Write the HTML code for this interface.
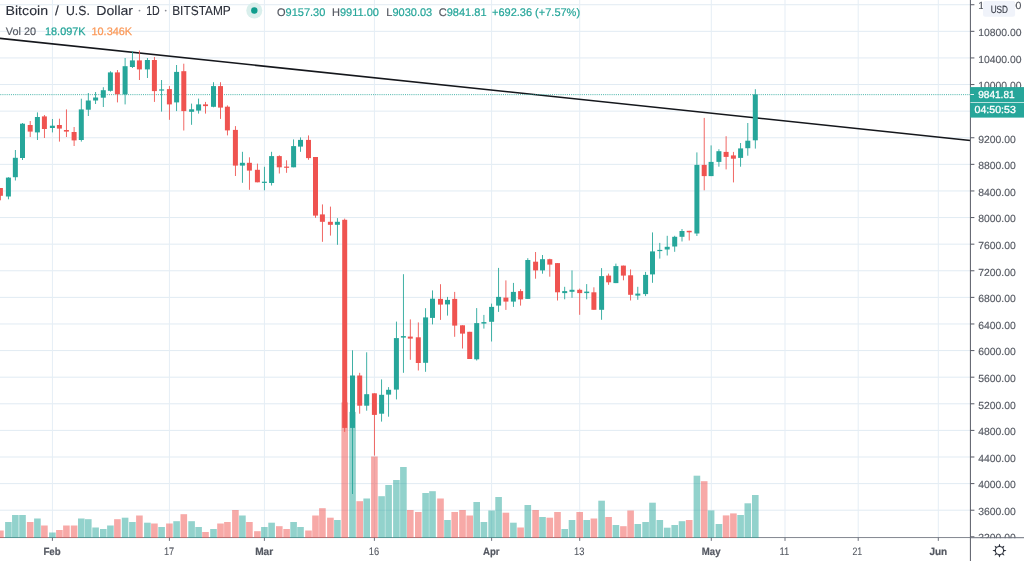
<!DOCTYPE html>
<html><head><meta charset="utf-8"><title>BTCUSD</title>
<style>
html,body{margin:0;padding:0;background:#fff;overflow:hidden}
body{width:1024px;height:561px;position:relative;font-family:"Liberation Sans",sans-serif}
svg text{font-family:"Liberation Sans",sans-serif;text-rendering:geometricPrecision}
svg{will-change:transform;transform:translateZ(0)}
</style></head><body>
<svg width="1024" height="561" viewBox="0 0 1024 561" style="position:absolute;left:0;top:0">
<rect width="1024" height="561" fill="#fff"/>
<rect x="0" y="509.70" width="970.4" height="1" fill="#e1ebf3"/>
<rect x="0" y="483.10" width="970.4" height="1" fill="#e1ebf3"/>
<rect x="0" y="456.49" width="970.4" height="1" fill="#e1ebf3"/>
<rect x="0" y="429.89" width="970.4" height="1" fill="#e1ebf3"/>
<rect x="0" y="403.29" width="970.4" height="1" fill="#e1ebf3"/>
<rect x="0" y="376.68" width="970.4" height="1" fill="#e1ebf3"/>
<rect x="0" y="350.08" width="970.4" height="1" fill="#e1ebf3"/>
<rect x="0" y="323.47" width="970.4" height="1" fill="#e1ebf3"/>
<rect x="0" y="296.87" width="970.4" height="1" fill="#e1ebf3"/>
<rect x="0" y="270.27" width="970.4" height="1" fill="#e1ebf3"/>
<rect x="0" y="243.66" width="970.4" height="1" fill="#e1ebf3"/>
<rect x="0" y="217.06" width="970.4" height="1" fill="#e1ebf3"/>
<rect x="0" y="190.45" width="970.4" height="1" fill="#e1ebf3"/>
<rect x="0" y="163.85" width="970.4" height="1" fill="#e1ebf3"/>
<rect x="0" y="137.25" width="970.4" height="1" fill="#e1ebf3"/>
<rect x="0" y="110.64" width="970.4" height="1" fill="#e1ebf3"/>
<rect x="0" y="84.04" width="970.4" height="1" fill="#e1ebf3"/>
<rect x="0" y="57.43" width="970.4" height="1" fill="#e1ebf3"/>
<rect x="0" y="30.83" width="970.4" height="1" fill="#e1ebf3"/>
<rect x="0" y="4.23" width="970.4" height="1" fill="#e1ebf3"/>
<rect x="51.90" y="0" width="1" height="537.55" fill="#e5eef5"/>
<rect x="168.90" y="0" width="1" height="537.55" fill="#e5eef5"/>
<rect x="263.90" y="0" width="1" height="537.55" fill="#e5eef5"/>
<rect x="373.90" y="0" width="1" height="537.55" fill="#e5eef5"/>
<rect x="491.10" y="0" width="1" height="537.55" fill="#e5eef5"/>
<rect x="579.20" y="0" width="1" height="537.55" fill="#e5eef5"/>
<rect x="710.80" y="0" width="1" height="537.55" fill="#e5eef5"/>
<rect x="784.50" y="0" width="1" height="537.55" fill="#e5eef5"/>
<rect x="857.70" y="0" width="1" height="537.55" fill="#e5eef5"/>
<rect x="937.80" y="0" width="1" height="537.55" fill="#e5eef5"/>
<rect x="0" y="537.20" width="1024" height="1" fill="#6c707c"/>
<rect x="-2.90" y="530.50" width="6.6" height="7.50" fill="#ef5350" fill-opacity="0.5"/>
<rect x="5.10" y="522.00" width="6.6" height="16.00" fill="#26a69a" fill-opacity="0.5"/>
<rect x="12.05" y="515.00" width="6.6" height="23.00" fill="#26a69a" fill-opacity="0.5"/>
<rect x="19.20" y="515.00" width="6.6" height="23.00" fill="#26a69a" fill-opacity="0.5"/>
<rect x="26.90" y="522.00" width="6.6" height="16.00" fill="#ef5350" fill-opacity="0.5"/>
<rect x="34.10" y="518.50" width="6.6" height="19.50" fill="#26a69a" fill-opacity="0.5"/>
<rect x="41.10" y="525.50" width="6.6" height="12.50" fill="#ef5350" fill-opacity="0.5"/>
<rect x="49.10" y="532.50" width="6.6" height="5.50" fill="#26a69a" fill-opacity="0.5"/>
<rect x="56.10" y="530.00" width="6.6" height="8.00" fill="#ef5350" fill-opacity="0.5"/>
<rect x="63.10" y="525.50" width="6.6" height="12.50" fill="#ef5350" fill-opacity="0.5"/>
<rect x="70.80" y="525.50" width="6.6" height="12.50" fill="#ef5350" fill-opacity="0.5"/>
<rect x="78.00" y="518.50" width="6.6" height="19.50" fill="#26a69a" fill-opacity="0.5"/>
<rect x="85.00" y="519.20" width="6.6" height="18.80" fill="#26a69a" fill-opacity="0.5"/>
<rect x="92.30" y="527.50" width="6.6" height="10.50" fill="#26a69a" fill-opacity="0.5"/>
<rect x="100.00" y="529.00" width="6.6" height="9.00" fill="#26a69a" fill-opacity="0.5"/>
<rect x="107.10" y="525.50" width="6.6" height="12.50" fill="#26a69a" fill-opacity="0.5"/>
<rect x="114.10" y="519.20" width="6.6" height="18.80" fill="#ef5350" fill-opacity="0.5"/>
<rect x="121.80" y="517.70" width="6.6" height="20.30" fill="#26a69a" fill-opacity="0.5"/>
<rect x="129.10" y="522.00" width="6.6" height="16.00" fill="#26a69a" fill-opacity="0.5"/>
<rect x="136.10" y="515.50" width="6.6" height="22.50" fill="#ef5350" fill-opacity="0.5"/>
<rect x="144.10" y="522.70" width="6.6" height="15.30" fill="#26a69a" fill-opacity="0.5"/>
<rect x="151.10" y="523.50" width="6.6" height="14.50" fill="#ef5350" fill-opacity="0.5"/>
<rect x="158.30" y="527.00" width="6.6" height="11.00" fill="#26a69a" fill-opacity="0.5"/>
<rect x="166.10" y="523.50" width="6.6" height="14.50" fill="#ef5350" fill-opacity="0.5"/>
<rect x="173.30" y="521.20" width="6.6" height="16.80" fill="#26a69a" fill-opacity="0.5"/>
<rect x="180.50" y="514.20" width="6.6" height="23.80" fill="#ef5350" fill-opacity="0.5"/>
<rect x="188.30" y="521.20" width="6.6" height="16.80" fill="#26a69a" fill-opacity="0.5"/>
<rect x="195.30" y="527.00" width="6.6" height="11.00" fill="#26a69a" fill-opacity="0.5"/>
<rect x="202.20" y="532.00" width="6.6" height="6.00" fill="#ef5350" fill-opacity="0.5"/>
<rect x="210.20" y="529.00" width="6.6" height="9.00" fill="#26a69a" fill-opacity="0.5"/>
<rect x="217.20" y="523.50" width="6.6" height="14.50" fill="#ef5350" fill-opacity="0.5"/>
<rect x="224.10" y="522.00" width="6.6" height="16.00" fill="#ef5350" fill-opacity="0.5"/>
<rect x="232.10" y="510.00" width="6.6" height="28.00" fill="#ef5350" fill-opacity="0.5"/>
<rect x="239.10" y="515.50" width="6.6" height="22.50" fill="#26a69a" fill-opacity="0.5"/>
<rect x="246.10" y="522.00" width="6.6" height="16.00" fill="#ef5350" fill-opacity="0.5"/>
<rect x="254.10" y="531.20" width="6.6" height="6.80" fill="#ef5350" fill-opacity="0.5"/>
<rect x="261.10" y="527.00" width="6.6" height="11.00" fill="#26a69a" fill-opacity="0.5"/>
<rect x="268.30" y="522.70" width="6.6" height="15.30" fill="#26a69a" fill-opacity="0.5"/>
<rect x="276.00" y="526.20" width="6.6" height="11.80" fill="#ef5350" fill-opacity="0.5"/>
<rect x="283.30" y="529.00" width="6.6" height="9.00" fill="#ef5350" fill-opacity="0.5"/>
<rect x="290.30" y="522.00" width="6.6" height="16.00" fill="#26a69a" fill-opacity="0.5"/>
<rect x="297.20" y="527.00" width="6.6" height="11.00" fill="#26a69a" fill-opacity="0.5"/>
<rect x="305.20" y="530.50" width="6.6" height="7.50" fill="#ef5350" fill-opacity="0.5"/>
<rect x="312.20" y="515.50" width="6.6" height="22.50" fill="#ef5350" fill-opacity="0.5"/>
<rect x="319.10" y="508.20" width="6.6" height="29.80" fill="#ef5350" fill-opacity="0.5"/>
<rect x="327.10" y="517.70" width="6.6" height="20.30" fill="#ef5350" fill-opacity="0.5"/>
<rect x="334.10" y="520.00" width="6.6" height="18.00" fill="#26a69a" fill-opacity="0.5"/>
<rect x="341.40" y="402.40" width="6.6" height="135.60" fill="#ef5350" fill-opacity="0.5"/>
<rect x="349.20" y="411.90" width="6.6" height="126.10" fill="#26a69a" fill-opacity="0.5"/>
<rect x="356.40" y="501.20" width="6.6" height="36.80" fill="#ef5350" fill-opacity="0.5"/>
<rect x="363.40" y="498.50" width="6.6" height="39.50" fill="#26a69a" fill-opacity="0.5"/>
<rect x="371.10" y="456.50" width="6.6" height="81.50" fill="#ef5350" fill-opacity="0.5"/>
<rect x="378.30" y="496.20" width="6.6" height="41.80" fill="#26a69a" fill-opacity="0.5"/>
<rect x="385.30" y="485.00" width="6.6" height="53.00" fill="#26a69a" fill-opacity="0.5"/>
<rect x="393.10" y="480.00" width="6.6" height="58.00" fill="#26a69a" fill-opacity="0.5"/>
<rect x="400.10" y="467.00" width="6.6" height="71.00" fill="#26a69a" fill-opacity="0.5"/>
<rect x="407.00" y="510.00" width="6.6" height="28.00" fill="#ef5350" fill-opacity="0.5"/>
<rect x="415.00" y="512.00" width="6.6" height="26.00" fill="#ef5350" fill-opacity="0.5"/>
<rect x="422.30" y="493.00" width="6.6" height="45.00" fill="#26a69a" fill-opacity="0.5"/>
<rect x="429.20" y="491.20" width="6.6" height="46.80" fill="#26a69a" fill-opacity="0.5"/>
<rect x="437.20" y="498.50" width="6.6" height="39.50" fill="#ef5350" fill-opacity="0.5"/>
<rect x="444.20" y="520.00" width="6.6" height="18.00" fill="#26a69a" fill-opacity="0.5"/>
<rect x="451.40" y="512.00" width="6.6" height="26.00" fill="#ef5350" fill-opacity="0.5"/>
<rect x="459.20" y="510.00" width="6.6" height="28.00" fill="#ef5350" fill-opacity="0.5"/>
<rect x="466.40" y="515.50" width="6.6" height="22.50" fill="#ef5350" fill-opacity="0.5"/>
<rect x="473.40" y="502.00" width="6.6" height="36.00" fill="#26a69a" fill-opacity="0.5"/>
<rect x="480.60" y="522.00" width="6.6" height="16.00" fill="#26a69a" fill-opacity="0.5"/>
<rect x="488.30" y="510.50" width="6.6" height="27.50" fill="#26a69a" fill-opacity="0.5"/>
<rect x="495.30" y="497.00" width="6.6" height="41.00" fill="#26a69a" fill-opacity="0.5"/>
<rect x="502.60" y="512.70" width="6.6" height="25.30" fill="#ef5350" fill-opacity="0.5"/>
<rect x="510.10" y="522.70" width="6.6" height="15.30" fill="#26a69a" fill-opacity="0.5"/>
<rect x="517.30" y="527.50" width="6.6" height="10.50" fill="#ef5350" fill-opacity="0.5"/>
<rect x="524.50" y="505.00" width="6.6" height="33.00" fill="#26a69a" fill-opacity="0.5"/>
<rect x="532.30" y="510.00" width="6.6" height="28.00" fill="#ef5350" fill-opacity="0.5"/>
<rect x="539.20" y="517.00" width="6.6" height="21.00" fill="#26a69a" fill-opacity="0.5"/>
<rect x="546.50" y="517.70" width="6.6" height="20.30" fill="#ef5350" fill-opacity="0.5"/>
<rect x="554.20" y="512.00" width="6.6" height="26.00" fill="#ef5350" fill-opacity="0.5"/>
<rect x="561.40" y="529.00" width="6.6" height="9.00" fill="#26a69a" fill-opacity="0.5"/>
<rect x="568.70" y="520.00" width="6.6" height="18.00" fill="#26a69a" fill-opacity="0.5"/>
<rect x="576.40" y="512.00" width="6.6" height="26.00" fill="#ef5350" fill-opacity="0.5"/>
<rect x="583.40" y="520.00" width="6.6" height="18.00" fill="#26a69a" fill-opacity="0.5"/>
<rect x="590.60" y="518.50" width="6.6" height="19.50" fill="#ef5350" fill-opacity="0.5"/>
<rect x="598.30" y="500.70" width="6.6" height="37.30" fill="#26a69a" fill-opacity="0.5"/>
<rect x="605.30" y="517.00" width="6.6" height="21.00" fill="#ef5350" fill-opacity="0.5"/>
<rect x="612.60" y="525.00" width="6.6" height="13.00" fill="#26a69a" fill-opacity="0.5"/>
<rect x="620.10" y="526.20" width="6.6" height="11.80" fill="#ef5350" fill-opacity="0.5"/>
<rect x="627.30" y="510.50" width="6.6" height="27.50" fill="#ef5350" fill-opacity="0.5"/>
<rect x="634.50" y="524.00" width="6.6" height="14.00" fill="#26a69a" fill-opacity="0.5"/>
<rect x="642.30" y="522.00" width="6.6" height="16.00" fill="#26a69a" fill-opacity="0.5"/>
<rect x="649.20" y="502.70" width="6.6" height="35.30" fill="#26a69a" fill-opacity="0.5"/>
<rect x="656.50" y="520.00" width="6.6" height="18.00" fill="#26a69a" fill-opacity="0.5"/>
<rect x="663.90" y="527.70" width="6.6" height="10.30" fill="#26a69a" fill-opacity="0.5"/>
<rect x="671.40" y="525.00" width="6.6" height="13.00" fill="#26a69a" fill-opacity="0.5"/>
<rect x="678.70" y="521.20" width="6.6" height="16.80" fill="#26a69a" fill-opacity="0.5"/>
<rect x="685.90" y="520.00" width="6.6" height="18.00" fill="#ef5350" fill-opacity="0.5"/>
<rect x="693.60" y="475.70" width="6.6" height="62.30" fill="#26a69a" fill-opacity="0.5"/>
<rect x="700.90" y="481.20" width="6.6" height="56.80" fill="#ef5350" fill-opacity="0.5"/>
<rect x="707.80" y="510.40" width="6.6" height="27.60" fill="#26a69a" fill-opacity="0.5"/>
<rect x="715.60" y="524.00" width="6.6" height="14.00" fill="#26a69a" fill-opacity="0.5"/>
<rect x="722.80" y="515.40" width="6.6" height="22.60" fill="#ef5350" fill-opacity="0.5"/>
<rect x="730.10" y="513.40" width="6.6" height="24.60" fill="#ef5350" fill-opacity="0.5"/>
<rect x="737.30" y="515.00" width="6.6" height="23.00" fill="#26a69a" fill-opacity="0.5"/>
<rect x="744.50" y="503.30" width="6.6" height="34.70" fill="#26a69a" fill-opacity="0.5"/>
<rect x="752.00" y="495.00" width="6.6" height="43.00" fill="#26a69a" fill-opacity="0.5"/>
<line x1="-2" y1="38.19" x2="970.4" y2="140.45" stroke="#15171c" stroke-width="1.55"/>
<line x1="0.3" y1="94.65" x2="970.4" y2="94.65" stroke="#26a69a" stroke-width="1" stroke-dasharray="1 1.13" stroke-opacity="0.85"/>
<rect x="-0.04" y="188.00" width="0.88" height="12.30" fill="#ef5350"/>
<rect x="-2.10" y="188.00" width="5" height="7.80" fill="#ef5350"/>
<rect x="7.96" y="177.20" width="0.88" height="22.10" fill="#26a69a"/>
<rect x="5.90" y="177.60" width="5" height="18.90" fill="#26a69a"/>
<rect x="14.91" y="150.00" width="0.88" height="30.50" fill="#26a69a"/>
<rect x="12.85" y="157.80" width="5" height="19.40" fill="#26a69a"/>
<rect x="22.06" y="123.00" width="0.88" height="37.00" fill="#26a69a"/>
<rect x="20.00" y="123.70" width="5" height="34.30" fill="#26a69a"/>
<rect x="29.76" y="121.00" width="0.88" height="16.00" fill="#ef5350"/>
<rect x="27.70" y="125.00" width="5" height="6.60" fill="#ef5350"/>
<rect x="36.96" y="112.40" width="0.88" height="27.60" fill="#26a69a"/>
<rect x="34.90" y="117.00" width="5" height="15.40" fill="#26a69a"/>
<rect x="43.96" y="115.00" width="0.88" height="23.00" fill="#ef5350"/>
<rect x="41.90" y="116.40" width="5" height="12.60" fill="#ef5350"/>
<rect x="51.96" y="119.00" width="0.88" height="13.40" fill="#26a69a"/>
<rect x="49.90" y="125.70" width="5" height="2.30" fill="#26a69a"/>
<rect x="58.96" y="118.70" width="0.88" height="22.90" fill="#ef5350"/>
<rect x="56.90" y="125.00" width="5" height="3.60" fill="#ef5350"/>
<rect x="65.96" y="109.40" width="0.88" height="27.60" fill="#ef5350"/>
<rect x="63.90" y="130.00" width="5" height="1.60" fill="#ef5350"/>
<rect x="73.66" y="127.00" width="0.88" height="19.00" fill="#ef5350"/>
<rect x="71.60" y="132.00" width="5" height="8.40" fill="#ef5350"/>
<rect x="80.86" y="98.70" width="0.88" height="42.90" fill="#26a69a"/>
<rect x="78.80" y="109.40" width="5" height="30.60" fill="#26a69a"/>
<rect x="87.86" y="93.00" width="0.88" height="23.00" fill="#26a69a"/>
<rect x="85.80" y="100.50" width="5" height="9.20" fill="#26a69a"/>
<rect x="95.16" y="92.00" width="0.88" height="12.00" fill="#26a69a"/>
<rect x="93.10" y="97.50" width="5" height="3.00" fill="#26a69a"/>
<rect x="102.86" y="87.20" width="0.88" height="19.80" fill="#26a69a"/>
<rect x="100.80" y="90.20" width="5" height="7.50" fill="#26a69a"/>
<rect x="109.96" y="71.20" width="0.88" height="20.40" fill="#26a69a"/>
<rect x="107.90" y="72.40" width="5" height="18.40" fill="#26a69a"/>
<rect x="116.96" y="70.00" width="0.88" height="32.40" fill="#ef5350"/>
<rect x="114.90" y="72.40" width="5" height="21.80" fill="#ef5350"/>
<rect x="124.66" y="58.00" width="0.88" height="46.40" fill="#26a69a"/>
<rect x="122.60" y="66.20" width="5" height="28.20" fill="#26a69a"/>
<rect x="131.96" y="51.20" width="0.88" height="16.80" fill="#26a69a"/>
<rect x="129.90" y="60.40" width="5" height="6.60" fill="#26a69a"/>
<rect x="138.96" y="50.50" width="0.88" height="29.50" fill="#ef5350"/>
<rect x="136.90" y="60.40" width="5" height="9.00" fill="#ef5350"/>
<rect x="146.96" y="58.00" width="0.88" height="20.00" fill="#26a69a"/>
<rect x="144.90" y="60.00" width="5" height="9.40" fill="#26a69a"/>
<rect x="153.96" y="57.00" width="0.88" height="44.90" fill="#ef5350"/>
<rect x="151.90" y="60.00" width="5" height="31.10" fill="#ef5350"/>
<rect x="161.16" y="80.00" width="0.88" height="31.60" fill="#26a69a"/>
<rect x="159.10" y="89.40" width="5" height="1.20" fill="#26a69a"/>
<rect x="168.96" y="86.10" width="0.88" height="33.70" fill="#ef5350"/>
<rect x="166.90" y="89.10" width="5" height="15.30" fill="#ef5350"/>
<rect x="176.16" y="65.00" width="0.88" height="46.10" fill="#26a69a"/>
<rect x="174.10" y="71.90" width="5" height="30.50" fill="#26a69a"/>
<rect x="183.36" y="63.70" width="0.88" height="66.80" fill="#ef5350"/>
<rect x="181.30" y="71.20" width="5" height="39.90" fill="#ef5350"/>
<rect x="191.16" y="103.60" width="0.88" height="21.20" fill="#26a69a"/>
<rect x="189.10" y="109.30" width="5" height="2.50" fill="#26a69a"/>
<rect x="198.16" y="98.60" width="0.88" height="15.00" fill="#26a69a"/>
<rect x="196.10" y="104.40" width="5" height="6.20" fill="#26a69a"/>
<rect x="205.06" y="101.90" width="0.88" height="11.70" fill="#ef5350"/>
<rect x="203.00" y="104.40" width="5" height="1.70" fill="#ef5350"/>
<rect x="213.06" y="82.20" width="0.88" height="25.10" fill="#26a69a"/>
<rect x="211.00" y="86.10" width="5" height="20.70" fill="#26a69a"/>
<rect x="220.06" y="82.20" width="0.88" height="36.70" fill="#ef5350"/>
<rect x="218.00" y="86.10" width="5" height="21.50" fill="#ef5350"/>
<rect x="226.96" y="105.40" width="0.88" height="30.00" fill="#ef5350"/>
<rect x="224.90" y="106.70" width="5" height="23.70" fill="#ef5350"/>
<rect x="234.96" y="126.10" width="0.88" height="49.90" fill="#ef5350"/>
<rect x="232.90" y="129.90" width="5" height="35.70" fill="#ef5350"/>
<rect x="241.96" y="151.80" width="0.88" height="31.00" fill="#26a69a"/>
<rect x="239.90" y="162.80" width="5" height="2.80" fill="#26a69a"/>
<rect x="248.96" y="157.30" width="0.88" height="32.50" fill="#ef5350"/>
<rect x="246.90" y="162.80" width="5" height="7.80" fill="#ef5350"/>
<rect x="256.96" y="163.60" width="0.88" height="18.70" fill="#ef5350"/>
<rect x="254.90" y="169.80" width="5" height="12.50" fill="#ef5350"/>
<rect x="263.96" y="166.80" width="0.88" height="23.50" fill="#26a69a"/>
<rect x="261.90" y="181.70" width="5" height="1.20" fill="#26a69a"/>
<rect x="271.16" y="151.80" width="0.88" height="33.70" fill="#26a69a"/>
<rect x="269.10" y="156.10" width="5" height="26.90" fill="#26a69a"/>
<rect x="278.86" y="155.30" width="0.88" height="18.20" fill="#ef5350"/>
<rect x="276.80" y="156.10" width="5" height="11.20" fill="#ef5350"/>
<rect x="286.16" y="160.30" width="0.88" height="12.50" fill="#ef5350"/>
<rect x="284.10" y="166.60" width="5" height="1.20" fill="#ef5350"/>
<rect x="293.16" y="139.40" width="0.88" height="27.90" fill="#26a69a"/>
<rect x="291.10" y="146.10" width="5" height="21.20" fill="#26a69a"/>
<rect x="300.06" y="137.40" width="0.88" height="14.40" fill="#26a69a"/>
<rect x="298.00" y="139.90" width="5" height="6.70" fill="#26a69a"/>
<rect x="308.06" y="135.40" width="0.88" height="24.40" fill="#ef5350"/>
<rect x="306.00" y="139.90" width="5" height="18.20" fill="#ef5350"/>
<rect x="315.06" y="157.00" width="0.88" height="60.80" fill="#ef5350"/>
<rect x="313.00" y="157.00" width="5" height="58.60" fill="#ef5350"/>
<rect x="321.96" y="204.40" width="0.88" height="37.40" fill="#ef5350"/>
<rect x="319.90" y="214.40" width="5" height="7.40" fill="#ef5350"/>
<rect x="329.96" y="206.60" width="0.88" height="29.00" fill="#ef5350"/>
<rect x="327.90" y="221.80" width="5" height="3.00" fill="#ef5350"/>
<rect x="336.96" y="218.10" width="0.88" height="26.70" fill="#26a69a"/>
<rect x="334.90" y="221.80" width="5" height="3.00" fill="#26a69a"/>
<rect x="344.26" y="218.60" width="0.88" height="213.30" fill="#ef5350"/>
<rect x="342.20" y="219.80" width="5" height="208.10" fill="#ef5350"/>
<rect x="352.06" y="350.30" width="0.88" height="143.70" fill="#26a69a"/>
<rect x="350.00" y="375.50" width="5" height="52.40" fill="#26a69a"/>
<rect x="359.26" y="372.80" width="0.88" height="40.90" fill="#ef5350"/>
<rect x="357.20" y="375.50" width="5" height="30.20" fill="#ef5350"/>
<rect x="366.26" y="352.30" width="0.88" height="58.40" fill="#26a69a"/>
<rect x="364.20" y="394.20" width="5" height="11.50" fill="#26a69a"/>
<rect x="373.96" y="393.30" width="0.88" height="62.30" fill="#ef5350"/>
<rect x="371.90" y="393.30" width="5" height="21.60" fill="#ef5350"/>
<rect x="381.16" y="379.40" width="0.88" height="42.20" fill="#26a69a"/>
<rect x="379.10" y="394.80" width="5" height="18.90" fill="#26a69a"/>
<rect x="388.16" y="387.10" width="0.88" height="29.60" fill="#26a69a"/>
<rect x="386.10" y="389.80" width="5" height="4.80" fill="#26a69a"/>
<rect x="395.96" y="321.60" width="0.88" height="77.80" fill="#26a69a"/>
<rect x="393.90" y="338.10" width="5" height="51.50" fill="#26a69a"/>
<rect x="402.96" y="274.20" width="0.88" height="98.60" fill="#26a69a"/>
<rect x="400.90" y="336.10" width="5" height="1.50" fill="#26a69a"/>
<rect x="409.86" y="319.40" width="0.88" height="40.40" fill="#ef5350"/>
<rect x="407.80" y="336.60" width="5" height="2.00" fill="#ef5350"/>
<rect x="417.86" y="322.40" width="0.88" height="48.10" fill="#ef5350"/>
<rect x="415.80" y="337.30" width="5" height="25.70" fill="#ef5350"/>
<rect x="425.16" y="308.20" width="0.88" height="63.60" fill="#26a69a"/>
<rect x="423.10" y="317.40" width="5" height="45.40" fill="#26a69a"/>
<rect x="432.06" y="290.40" width="0.88" height="34.00" fill="#26a69a"/>
<rect x="430.00" y="298.70" width="5" height="19.20" fill="#26a69a"/>
<rect x="440.06" y="284.20" width="0.88" height="35.70" fill="#ef5350"/>
<rect x="438.00" y="298.90" width="5" height="5.70" fill="#ef5350"/>
<rect x="447.06" y="296.90" width="0.88" height="18.70" fill="#26a69a"/>
<rect x="445.00" y="299.90" width="5" height="4.50" fill="#26a69a"/>
<rect x="454.26" y="291.90" width="0.88" height="44.90" fill="#ef5350"/>
<rect x="452.20" y="298.90" width="5" height="26.70" fill="#ef5350"/>
<rect x="462.06" y="325.30" width="0.88" height="23.20" fill="#ef5350"/>
<rect x="460.00" y="325.30" width="5" height="8.30" fill="#ef5350"/>
<rect x="469.26" y="331.80" width="0.88" height="27.20" fill="#ef5350"/>
<rect x="467.20" y="331.80" width="5" height="27.20" fill="#ef5350"/>
<rect x="476.26" y="308.10" width="0.88" height="52.40" fill="#26a69a"/>
<rect x="474.20" y="323.10" width="5" height="36.20" fill="#26a69a"/>
<rect x="483.46" y="314.90" width="0.88" height="13.70" fill="#26a69a"/>
<rect x="481.40" y="322.10" width="5" height="1.50" fill="#26a69a"/>
<rect x="491.16" y="303.60" width="0.88" height="37.90" fill="#26a69a"/>
<rect x="489.10" y="306.90" width="5" height="14.90" fill="#26a69a"/>
<rect x="498.16" y="267.90" width="0.88" height="44.00" fill="#26a69a"/>
<rect x="496.10" y="296.90" width="5" height="8.70" fill="#26a69a"/>
<rect x="505.46" y="280.40" width="0.88" height="29.50" fill="#ef5350"/>
<rect x="503.40" y="297.60" width="5" height="4.00" fill="#ef5350"/>
<rect x="512.96" y="282.90" width="0.88" height="24.00" fill="#26a69a"/>
<rect x="510.90" y="291.90" width="5" height="9.70" fill="#26a69a"/>
<rect x="520.16" y="289.20" width="0.88" height="16.40" fill="#ef5350"/>
<rect x="518.10" y="291.10" width="5" height="8.30" fill="#ef5350"/>
<rect x="527.36" y="258.20" width="0.88" height="40.70" fill="#26a69a"/>
<rect x="525.30" y="260.00" width="5" height="38.90" fill="#26a69a"/>
<rect x="535.16" y="252.00" width="0.88" height="26.70" fill="#ef5350"/>
<rect x="533.10" y="261.70" width="5" height="8.70" fill="#ef5350"/>
<rect x="542.06" y="255.00" width="0.88" height="18.70" fill="#26a69a"/>
<rect x="540.00" y="259.20" width="5" height="11.20" fill="#26a69a"/>
<rect x="549.36" y="258.70" width="0.88" height="18.00" fill="#ef5350"/>
<rect x="547.30" y="259.20" width="5" height="5.40" fill="#ef5350"/>
<rect x="557.06" y="263.10" width="0.88" height="37.40" fill="#ef5350"/>
<rect x="555.00" y="263.10" width="5" height="29.20" fill="#ef5350"/>
<rect x="564.26" y="286.80" width="0.88" height="12.50" fill="#26a69a"/>
<rect x="562.20" y="291.10" width="5" height="2.00" fill="#26a69a"/>
<rect x="571.56" y="270.40" width="0.88" height="27.40" fill="#26a69a"/>
<rect x="569.50" y="289.80" width="5" height="2.00" fill="#26a69a"/>
<rect x="579.26" y="288.60" width="0.88" height="26.20" fill="#ef5350"/>
<rect x="577.20" y="289.80" width="5" height="3.30" fill="#ef5350"/>
<rect x="586.26" y="284.10" width="0.88" height="15.20" fill="#26a69a"/>
<rect x="584.20" y="291.60" width="5" height="1.50" fill="#26a69a"/>
<rect x="593.46" y="287.30" width="0.88" height="22.50" fill="#ef5350"/>
<rect x="591.40" y="292.30" width="5" height="17.50" fill="#ef5350"/>
<rect x="601.16" y="268.10" width="0.88" height="51.70" fill="#26a69a"/>
<rect x="599.10" y="276.10" width="5" height="33.70" fill="#26a69a"/>
<rect x="608.16" y="273.60" width="0.88" height="11.20" fill="#ef5350"/>
<rect x="606.10" y="275.60" width="5" height="6.70" fill="#ef5350"/>
<rect x="615.46" y="263.60" width="0.88" height="19.50" fill="#26a69a"/>
<rect x="613.40" y="266.10" width="5" height="17.00" fill="#26a69a"/>
<rect x="622.96" y="265.60" width="0.88" height="14.70" fill="#ef5350"/>
<rect x="620.90" y="265.60" width="5" height="10.00" fill="#ef5350"/>
<rect x="630.16" y="269.40" width="0.88" height="31.10" fill="#ef5350"/>
<rect x="628.10" y="275.30" width="5" height="19.50" fill="#ef5350"/>
<rect x="637.36" y="286.80" width="0.88" height="13.00" fill="#26a69a"/>
<rect x="635.30" y="293.60" width="5" height="2.00" fill="#26a69a"/>
<rect x="645.16" y="271.90" width="0.88" height="24.20" fill="#26a69a"/>
<rect x="643.10" y="274.90" width="5" height="19.20" fill="#26a69a"/>
<rect x="652.06" y="232.40" width="0.88" height="50.40" fill="#26a69a"/>
<rect x="650.00" y="251.40" width="5" height="23.00" fill="#26a69a"/>
<rect x="659.36" y="242.90" width="0.88" height="15.70" fill="#26a69a"/>
<rect x="657.30" y="249.90" width="5" height="1.20" fill="#26a69a"/>
<rect x="666.76" y="235.80" width="0.88" height="19.70" fill="#26a69a"/>
<rect x="664.70" y="246.80" width="5" height="2.70" fill="#26a69a"/>
<rect x="674.26" y="235.80" width="0.88" height="16.00" fill="#26a69a"/>
<rect x="672.20" y="236.80" width="5" height="9.70" fill="#26a69a"/>
<rect x="681.56" y="229.00" width="0.88" height="12.50" fill="#26a69a"/>
<rect x="679.50" y="231.00" width="5" height="5.80" fill="#26a69a"/>
<rect x="688.76" y="230.80" width="0.88" height="9.70" fill="#ef5350"/>
<rect x="686.70" y="230.80" width="5" height="1.50" fill="#ef5350"/>
<rect x="696.46" y="152.40" width="0.88" height="83.60" fill="#26a69a"/>
<rect x="694.40" y="164.90" width="5" height="68.60" fill="#26a69a"/>
<rect x="703.76" y="117.90" width="0.88" height="72.40" fill="#ef5350"/>
<rect x="701.70" y="164.90" width="5" height="11.20" fill="#ef5350"/>
<rect x="710.66" y="145.40" width="0.88" height="30.70" fill="#26a69a"/>
<rect x="708.60" y="161.90" width="5" height="14.20" fill="#26a69a"/>
<rect x="718.46" y="149.20" width="0.88" height="17.50" fill="#26a69a"/>
<rect x="716.40" y="151.20" width="5" height="10.70" fill="#26a69a"/>
<rect x="725.66" y="136.20" width="0.88" height="33.20" fill="#ef5350"/>
<rect x="723.60" y="151.90" width="5" height="5.00" fill="#ef5350"/>
<rect x="732.96" y="151.90" width="0.88" height="30.50" fill="#ef5350"/>
<rect x="730.90" y="155.40" width="5" height="3.30" fill="#ef5350"/>
<rect x="740.16" y="143.00" width="0.88" height="23.70" fill="#26a69a"/>
<rect x="738.10" y="148.40" width="5" height="9.50" fill="#26a69a"/>
<rect x="747.36" y="123.00" width="0.88" height="32.70" fill="#26a69a"/>
<rect x="745.30" y="140.70" width="5" height="7.50" fill="#26a69a"/>
<rect x="754.86" y="89.20" width="0.88" height="59.40" fill="#26a69a"/>
<rect x="752.80" y="94.40" width="5" height="45.90" fill="#26a69a"/>
<rect x="970.4" y="0" width="53.60000000000002" height="561" fill="#fff"/>
<rect x="0" y="538.2" width="1024" height="23" fill="#fff"/>
<rect x="970.4" y="536.31" width="4" height="1" fill="#585b67"/>
<text x="978.2" y="540.90" font-size="10.3" fill="#555962" stroke="#555962" stroke-width="0.15" textLength="37.6" lengthAdjust="spacingAndGlyphs">3200.00</text>
<rect x="970.4" y="509.70" width="4" height="1" fill="#585b67"/>
<text x="978.2" y="515.00" font-size="10.3" fill="#555962" stroke="#555962" stroke-width="0.15" textLength="37.6" lengthAdjust="spacingAndGlyphs">3600.00</text>
<rect x="970.4" y="483.10" width="4" height="1" fill="#585b67"/>
<text x="978.2" y="488.40" font-size="10.3" fill="#555962" stroke="#555962" stroke-width="0.15" textLength="37.6" lengthAdjust="spacingAndGlyphs">4000.00</text>
<rect x="970.4" y="456.49" width="4" height="1" fill="#585b67"/>
<text x="978.2" y="461.79" font-size="10.3" fill="#555962" stroke="#555962" stroke-width="0.15" textLength="37.6" lengthAdjust="spacingAndGlyphs">4400.00</text>
<rect x="970.4" y="429.89" width="4" height="1" fill="#585b67"/>
<text x="978.2" y="435.19" font-size="10.3" fill="#555962" stroke="#555962" stroke-width="0.15" textLength="37.6" lengthAdjust="spacingAndGlyphs">4800.00</text>
<rect x="970.4" y="403.29" width="4" height="1" fill="#585b67"/>
<text x="978.2" y="408.59" font-size="10.3" fill="#555962" stroke="#555962" stroke-width="0.15" textLength="37.6" lengthAdjust="spacingAndGlyphs">5200.00</text>
<rect x="970.4" y="376.68" width="4" height="1" fill="#585b67"/>
<text x="978.2" y="381.98" font-size="10.3" fill="#555962" stroke="#555962" stroke-width="0.15" textLength="37.6" lengthAdjust="spacingAndGlyphs">5600.00</text>
<rect x="970.4" y="350.08" width="4" height="1" fill="#585b67"/>
<text x="978.2" y="355.38" font-size="10.3" fill="#555962" stroke="#555962" stroke-width="0.15" textLength="37.6" lengthAdjust="spacingAndGlyphs">6000.00</text>
<rect x="970.4" y="323.47" width="4" height="1" fill="#585b67"/>
<text x="978.2" y="328.77" font-size="10.3" fill="#555962" stroke="#555962" stroke-width="0.15" textLength="37.6" lengthAdjust="spacingAndGlyphs">6400.00</text>
<rect x="970.4" y="296.87" width="4" height="1" fill="#585b67"/>
<text x="978.2" y="302.17" font-size="10.3" fill="#555962" stroke="#555962" stroke-width="0.15" textLength="37.6" lengthAdjust="spacingAndGlyphs">6800.00</text>
<rect x="970.4" y="270.27" width="4" height="1" fill="#585b67"/>
<text x="978.2" y="275.57" font-size="10.3" fill="#555962" stroke="#555962" stroke-width="0.15" textLength="37.6" lengthAdjust="spacingAndGlyphs">7200.00</text>
<rect x="970.4" y="243.66" width="4" height="1" fill="#585b67"/>
<text x="978.2" y="248.96" font-size="10.3" fill="#555962" stroke="#555962" stroke-width="0.15" textLength="37.6" lengthAdjust="spacingAndGlyphs">7600.00</text>
<rect x="970.4" y="217.06" width="4" height="1" fill="#585b67"/>
<text x="978.2" y="222.36" font-size="10.3" fill="#555962" stroke="#555962" stroke-width="0.15" textLength="37.6" lengthAdjust="spacingAndGlyphs">8000.00</text>
<rect x="970.4" y="190.45" width="4" height="1" fill="#585b67"/>
<text x="978.2" y="195.75" font-size="10.3" fill="#555962" stroke="#555962" stroke-width="0.15" textLength="37.6" lengthAdjust="spacingAndGlyphs">8400.00</text>
<rect x="970.4" y="163.85" width="4" height="1" fill="#585b67"/>
<text x="978.2" y="169.15" font-size="10.3" fill="#555962" stroke="#555962" stroke-width="0.15" textLength="37.6" lengthAdjust="spacingAndGlyphs">8800.00</text>
<rect x="970.4" y="137.25" width="4" height="1" fill="#585b67"/>
<text x="978.2" y="142.55" font-size="10.3" fill="#555962" stroke="#555962" stroke-width="0.15" textLength="37.6" lengthAdjust="spacingAndGlyphs">9200.00</text>
<rect x="970.4" y="110.64" width="4" height="1" fill="#585b67"/>
<text x="978.2" y="115.94" font-size="10.3" fill="#555962" stroke="#555962" stroke-width="0.15" textLength="37.6" lengthAdjust="spacingAndGlyphs">9600.00</text>
<rect x="970.4" y="84.04" width="4" height="1" fill="#585b67"/>
<text x="978.2" y="89.34" font-size="10.3" fill="#555962" stroke="#555962" stroke-width="0.15" textLength="43.3" lengthAdjust="spacingAndGlyphs">10000.00</text>
<rect x="970.4" y="57.43" width="4" height="1" fill="#585b67"/>
<text x="978.2" y="62.73" font-size="10.3" fill="#555962" stroke="#555962" stroke-width="0.15" textLength="43.3" lengthAdjust="spacingAndGlyphs">10400.00</text>
<rect x="970.4" y="30.83" width="4" height="1" fill="#585b67"/>
<text x="978.2" y="36.13" font-size="10.3" fill="#555962" stroke="#555962" stroke-width="0.15" textLength="43.3" lengthAdjust="spacingAndGlyphs">10800.00</text>
<rect x="970.4" y="4.23" width="4" height="1" fill="#585b67"/>
<text x="978.2" y="9.00" font-size="10.3" fill="#555962" stroke="#555962" stroke-width="0.15" textLength="43.3" lengthAdjust="spacingAndGlyphs">11200.00</text>
<rect x="970.9" y="538.2" width="53.60000000000002" height="23" fill="#fff"/>
<rect x="969.90" y="0" width="1" height="561" fill="#585b67"/>
<rect x="970.4" y="537.20" width="53.60000000000002" height="1" fill="#6c707c"/>
<rect x="51.90" y="537.55" width="1" height="3.3" fill="#6c707c"/>
<text x="43.4" y="554.9" font-size="10.4" font-weight="bold" fill="#555962" stroke="#555962" stroke-width="0.2" textLength="17.2" lengthAdjust="spacingAndGlyphs">Feb</text>
<rect x="168.90" y="537.55" width="1" height="3.3" fill="#6c707c"/>
<text x="163.9" y="555.2" font-size="10.8" font-weight="normal" fill="#555962" stroke="#555962" stroke-width="0.1" textLength="10.3" lengthAdjust="spacingAndGlyphs">17</text>
<rect x="263.90" y="537.55" width="1" height="3.3" fill="#6c707c"/>
<text x="255.2" y="554.9" font-size="10.4" font-weight="bold" fill="#555962" stroke="#555962" stroke-width="0.2" textLength="18" lengthAdjust="spacingAndGlyphs">Mar</text>
<rect x="373.90" y="537.55" width="1" height="3.3" fill="#6c707c"/>
<text x="368.8" y="555.2" font-size="10.8" font-weight="normal" fill="#555962" stroke="#555962" stroke-width="0.1" textLength="10.4" lengthAdjust="spacingAndGlyphs">16</text>
<rect x="491.10" y="537.55" width="1" height="3.3" fill="#6c707c"/>
<text x="483.0" y="554.9" font-size="10.4" font-weight="bold" fill="#555962" stroke="#555962" stroke-width="0.2" textLength="16.6" lengthAdjust="spacingAndGlyphs">Apr</text>
<rect x="579.20" y="537.55" width="1" height="3.3" fill="#6c707c"/>
<text x="574.1" y="555.2" font-size="10.8" font-weight="normal" fill="#555962" stroke="#555962" stroke-width="0.1" textLength="10.4" lengthAdjust="spacingAndGlyphs">13</text>
<rect x="710.80" y="537.55" width="1" height="3.3" fill="#6c707c"/>
<text x="701.8" y="554.9" font-size="10.4" font-weight="bold" fill="#555962" stroke="#555962" stroke-width="0.2" textLength="18.7" lengthAdjust="spacingAndGlyphs">May</text>
<rect x="784.50" y="537.55" width="1" height="3.3" fill="#6c707c"/>
<text x="779.5" y="555.2" font-size="10.8" font-weight="normal" fill="#555962" stroke="#555962" stroke-width="0.1" textLength="9.8" lengthAdjust="spacingAndGlyphs">11</text>
<rect x="857.70" y="537.55" width="1" height="3.3" fill="#6c707c"/>
<text x="852.4" y="555.2" font-size="10.8" font-weight="normal" fill="#555962" stroke="#555962" stroke-width="0.1" textLength="9.8" lengthAdjust="spacingAndGlyphs">21</text>
<rect x="937.80" y="537.55" width="1" height="3.3" fill="#6c707c"/>
<text x="929.4" y="554.9" font-size="10.4" font-weight="bold" fill="#555962" stroke="#555962" stroke-width="0.2" textLength="17.8" lengthAdjust="spacingAndGlyphs">Jun</text>
<rect x="970.1" y="87.1" width="53.90000000000002" height="15.2" fill="#26a69a"/>
<rect x="970.1" y="102.9" width="53.90000000000002" height="14.7" fill="#26a69a"/>
<rect x="970.1" y="102.3" width="53.90000000000002" height="0.6" fill="#bfe5e1"/>
<rect x="970.4" y="94" width="3.6" height="1" fill="#e8f6f4"/>
<text x="978.2" y="97.9" font-size="10.2" fill="#fff" stroke="#fff" stroke-width="0.3" textLength="36.4" lengthAdjust="spacingAndGlyphs">9841.81</text>
<text x="974.6" y="113.3" font-size="10.2" fill="#fff" stroke="#fff" stroke-width="0.3" textLength="41.2" lengthAdjust="spacingAndGlyphs">04:50:53</text>
<rect x="983" y="1.1" width="32.1" height="15.7" rx="2.5" fill="#f0f3fa"/>
<text x="990.7" y="12.7" font-size="10.4" fill="#363a45" stroke="#363a45" stroke-width="0.15" textLength="17.3" lengthAdjust="spacingAndGlyphs">USD</text>
<circle cx="999.47" cy="550.6" r="4.1" fill="none" stroke="#2a2e39" stroke-width="1.05"/>
<polygon points="1003.77,551.55 1006.17,550.85 1006.17,550.35 1003.77,549.65" fill="#2a2e39"/>
<polygon points="1001.84,554.31 1004.03,555.51 1004.38,555.16 1003.18,552.97" fill="#2a2e39"/>
<polygon points="998.52,554.90 999.22,557.30 999.72,557.30 1000.42,554.90" fill="#2a2e39"/>
<polygon points="995.76,552.97 994.56,555.16 994.91,555.51 997.10,554.31" fill="#2a2e39"/>
<polygon points="995.17,549.65 992.77,550.35 992.77,550.85 995.17,551.55" fill="#2a2e39"/>
<polygon points="997.10,546.89 994.91,545.69 994.56,546.04 995.76,548.23" fill="#2a2e39"/>
<polygon points="1000.42,546.30 999.72,543.90 999.22,543.90 998.52,546.30" fill="#2a2e39"/>
<polygon points="1003.18,548.23 1004.38,546.04 1004.03,545.69 1001.84,546.89" fill="#2a2e39"/>
<text x="5.5" y="15.2" font-size="13" fill="#2a2e39" stroke="#2a2e39" stroke-width="0.1" textLength="42.6" lengthAdjust="spacingAndGlyphs">Bitcoin</text>
<text x="55" y="15.2" font-size="13" fill="#2a2e39" stroke="#2a2e39" stroke-width="0.1" textLength="3.8" lengthAdjust="spacingAndGlyphs">/</text>
<text x="66" y="15.2" font-size="13" fill="#2a2e39" stroke="#2a2e39" stroke-width="0.1" textLength="23.8" lengthAdjust="spacingAndGlyphs">U.S.</text>
<text x="96.2" y="15.2" font-size="13" fill="#2a2e39" stroke="#2a2e39" stroke-width="0.1" textLength="36.9" lengthAdjust="spacingAndGlyphs">Dollar</text>
<text x="146.2" y="15.2" font-size="13" fill="#2a2e39" stroke="#2a2e39" stroke-width="0.1" textLength="13.6" lengthAdjust="spacingAndGlyphs">1D</text>
<text x="172.2" y="15.2" font-size="13" fill="#2a2e39" stroke="#2a2e39" stroke-width="0.1" textLength="58.6" lengthAdjust="spacingAndGlyphs">BITSTAMP</text>
<circle cx="139.5" cy="10.6" r="0.9" fill="#8a8d96"/>
<circle cx="165.7" cy="10.6" r="0.9" fill="#8a8d96"/>
<circle cx="254.3" cy="10.5" r="8" fill="#d9efec"/>
<circle cx="254.3" cy="10.5" r="3.2" fill="#0f9d8d"/>
<text x="277" y="15.5" font-size="11" stroke-width="0.2"><tspan fill="#555962" stroke="#555962">O</tspan><tspan fill="#26a69a" stroke="#26a69a">9157.30</tspan></text>
<text x="332" y="15.5" font-size="11" stroke-width="0.2"><tspan fill="#555962" stroke="#555962">H</tspan><tspan fill="#26a69a" stroke="#26a69a">9911.00</tspan></text>
<text x="386.3" y="15.5" font-size="11" stroke-width="0.2"><tspan fill="#555962" stroke="#555962">L</tspan><tspan fill="#26a69a" stroke="#26a69a">9030.03</tspan></text>
<text x="438.8" y="15.5" font-size="11" stroke-width="0.2"><tspan fill="#555962" stroke="#555962">C</tspan><tspan fill="#26a69a" stroke="#26a69a">9841.81</tspan></text>
<text x="492" y="15.5" font-size="11" fill="#26a69a" stroke="#26a69a" stroke-width="0.2">+692.36 (+7.57%)</text>
<text x="5.8" y="35" font-size="10.9" fill="#555962" stroke="#555962" stroke-width="0.15">Vol 20</text>
<text x="45" y="35" font-size="10.9" fill="#26a69a" stroke="#26a69a" stroke-width="0.25">18.097K</text>
<text x="91.5" y="35" font-size="10.9" fill="#fb9a5a" stroke="#fb9a5a" stroke-width="0.25">10.346K</text>
</svg>
</body></html>
